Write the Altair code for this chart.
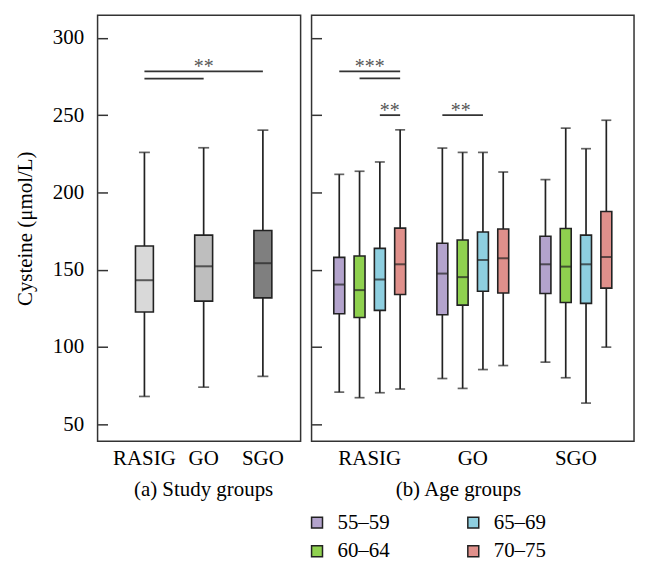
import altair as alt
import pandas as pd

FONT = "Liberation Serif"

groups = ["RASIG", "GO", "SGO"]
ages = ["55–59", "60–64", "65–69", "70–75"]

# (a) Study groups: box statistics
study_lower = [68.0, 74.0, 81.0]
study_q1 = [122.6, 129.7, 131.8]
study_median = [143.2, 152.2, 154.2]
study_q3 = [165.3, 172.4, 175.4]
study_upper = [225.9, 228.9, 240.3]
study_colors = ["#d9d9d9", "#bebebe", "#7f7f7f"]

# (b) Age groups: group-major order (RASIG x4 ages, GO x4, SGO x4)
age_group = [g for g in groups for _ in ages]
age_age = [a for _ in groups for a in ages]
age_lower = [70.8, 67.2, 70.4, 72.8, 79.6, 73.2, 85.4, 88.0, 90.2, 80.1, 63.7, 99.9]
age_q1 = [121.5, 119.1, 123.7, 134.0, 120.9, 127.1, 136.1, 134.9, 134.6, 128.8, 128.2, 138.1]
age_median = [140.4, 136.8, 143.6, 153.5, 147.5, 145.2, 156.3, 157.4, 153.5, 152.0, 153.5, 158.2]
age_q3 = [158.0, 158.9, 163.8, 176.9, 167.1, 169.2, 174.4, 176.3, 171.6, 176.7, 172.4, 187.7]
age_upper = [211.7, 213.7, 219.7, 240.5, 228.7, 225.9, 225.9, 213.2, 208.3, 241.6, 228.3, 246.7]
age_colors = ["#b3a3cc", "#8fd14f", "#8ecfe0", "#e0908b"]

# significance bars (a)
sigA_id = [1, 1, 2, 2]
sigA_group = ["RASIG", "SGO", "RASIG", "GO"]
sigA_y = [278.3, 278.3, 273.6, 273.6]
sigA_text_group = ["GO"]
sigA_text_y = [278.3]
sigA_text = ["**"]

# significance bars (b)
sigB_id = [1, 1, 2, 2, 3, 3, 4, 4]
sigB_group = ["RASIG", "RASIG", "RASIG", "RASIG", "RASIG", "RASIG", "GO", "GO"]
sigB_age = ["55–59", "70–75", "60–64", "70–75", "65–69", "70–75", "55–59", "65–69"]
sigB_y = [278.3, 278.3, 273.8, 273.8, 250.0, 250.0, 250.0, 250.0]

y_ticks = [50, 100, 150, 200, 250, 300]

dfA = pd.DataFrame({"group": groups, "lower": study_lower, "q1": study_q1,
                    "median": study_median, "q3": study_q3, "upper": study_upper})
dfB = pd.DataFrame({"group": age_group, "age": age_age, "lower": age_lower, "q1": age_q1,
                    "median": age_median, "q3": age_q3, "upper": age_upper})
sigA = pd.DataFrame({"id": sigA_id, "group": sigA_group, "y": sigA_y})
sigA_t = pd.DataFrame({"group": sigA_text_group, "y": sigA_text_y, "label": sigA_text})
sigB = pd.DataFrame({"id": sigB_id, "group": sigB_group, "age": sigB_age, "y": sigB_y})
sigB_t1 = pd.DataFrame({"group": ["RASIG"], "y": [278.3], "label": ["***"]})
sigB_t2 = pd.DataFrame({"group": ["RASIG"], "age": ["65–69"], "y": [250.0], "label": ["**"]})
sigB_t3 = pd.DataFrame({"group": ["GO"], "age": ["60–64"], "y": [250.0], "label": ["**"]})

LINE = "#222222"
y_scale = alt.Scale(domain=[39, 314.6], nice=False, zero=False)

axisY_left = alt.Axis(values=y_ticks, tickSize=10, offset=-10, domain=False, grid=False,
                      labelFontSize=21, labelFont=FONT, labelColor="black", labelPadding=14,
                      tickColor="#333333", tickWidth=1.5,
                      title="Cysteine (μmol/L)", titleFont=FONT, titleFontSize=21,
                      titleFontWeight="normal", titleColor="black", titlePadding=17)
axisY_right = alt.Axis(values=y_ticks, tickSize=10, offset=-10, domain=False, grid=False,
                       labels=False, title=None, tickColor="#333333", tickWidth=1.5)


def x_axis(title, tx):
    return alt.Axis(title=title, labelAngle=0, ticks=False, tickSize=0, domain=False,
                    labelFont=FONT, labelFontSize=21, labelColor="black", labelPadding=6,
                    titleFont=FONT, titleFontSize=21, titleFontWeight="normal",
                    titleColor="black", titlePadding=10, titleX=tx)


# ---------- panel (a)
xA = alt.X("group:N", sort=groups,
           scale=alt.Scale(type="band", paddingInner=0, paddingOuter=0.214, align=0.68),
           axis=x_axis("(a) Study groups", 106))

baseA = alt.Chart(dfA)
whiskA = baseA.mark_rule(color=LINE, strokeWidth=1.7).encode(
    x=xA, y=alt.Y("lower:Q", scale=y_scale, axis=axisY_left), y2="upper:Q")
capLoA = baseA.mark_tick(color=LINE, size=11, thickness=1.7).encode(
    x=xA, y=alt.Y("lower:Q", scale=y_scale, axis=axisY_left))
capHiA = baseA.mark_tick(color=LINE, size=11, thickness=1.7).encode(
    x=xA, y=alt.Y("upper:Q", scale=y_scale, axis=axisY_left))
boxA = baseA.mark_bar(size=18, stroke=LINE, strokeWidth=1.6).encode(
    x=xA, y=alt.Y("q1:Q", scale=y_scale, axis=axisY_left), y2="q3:Q",
    color=alt.Color("group:N", scale=alt.Scale(domain=groups, range=study_colors), legend=None))
medA = baseA.mark_tick(color=LINE, size=18, thickness=2).encode(
    x=xA, y=alt.Y("median:Q", scale=y_scale, axis=axisY_left))
lineA = alt.Chart(sigA).mark_line(color="#333333", strokeWidth=1.8).encode(
    x=xA, y=alt.Y("y:Q", scale=y_scale, axis=axisY_left), detail="id:N")
textA = alt.Chart(sigA_t).mark_text(font=FONT, fontSize=20, color="#555555",
                                    baseline="alphabetic", dy=2).encode(
    x=xA, y=alt.Y("y:Q", scale=y_scale, axis=axisY_left), text="label:N")

panelA = alt.layer(whiskA, capLoA, capHiA, boxA, medA, lineA, textA).properties(width=204, height=428)

# ---------- panel (b)
xB = alt.X("group:N", sort=groups,
           scale=alt.Scale(type="band", paddingInner=0, paddingOuter=0.064),
           axis=x_axis("(b) Age groups", 147))
offB = alt.XOffset("age:N", sort=ages,
                   scale=alt.Scale(type="band", paddingInner=0, paddingOuter=0.54))

baseB = alt.Chart(dfB)
whiskB = baseB.mark_rule(color=LINE, strokeWidth=1.7).encode(
    x=xB, xOffset=offB, y=alt.Y("lower:Q", scale=y_scale, axis=axisY_right), y2="upper:Q")
capLoB = baseB.mark_tick(color=LINE, size=10, thickness=1.7).encode(
    x=xB, xOffset=offB, y=alt.Y("lower:Q", scale=y_scale, axis=axisY_right))
capHiB = baseB.mark_tick(color=LINE, size=10, thickness=1.7).encode(
    x=xB, xOffset=offB, y=alt.Y("upper:Q", scale=y_scale, axis=axisY_right))
boxB = baseB.mark_bar(size=11, stroke=LINE, strokeWidth=1.6).encode(
    x=xB, xOffset=offB, y=alt.Y("q1:Q", scale=y_scale, axis=axisY_right), y2="q3:Q",
    color=alt.Color("age:N", sort=ages,
                    scale=alt.Scale(domain=ages, range=age_colors),
                    legend=alt.Legend(orient="none", legendX=-5, legendY=499, columns=2,
                                      direction="vertical",
                                      title=None, symbolType="square", symbolSize=121,
                                      symbolStrokeColor=LINE, symbolStrokeWidth=1.5,
                                      symbolOpacity=1, labelFont=FONT, labelFontSize=21,
                                      labelColor="black", labelOffset=10,
                                      columnPadding=73, rowPadding=7, padding=0)))
medB = baseB.mark_tick(color=LINE, size=11, thickness=2).encode(
    x=xB, xOffset=offB, y=alt.Y("median:Q", scale=y_scale, axis=axisY_right))
lineB = alt.Chart(sigB).mark_line(color="#333333", strokeWidth=1.8).encode(
    x=xB, xOffset=offB, y=alt.Y("y:Q", scale=y_scale, axis=axisY_right), detail="id:N")
textB1 = alt.Chart(sigB_t1).mark_text(font=FONT, fontSize=20, color="#555555",
                                      baseline="alphabetic", dy=2).encode(
    x=xB, y=alt.Y("y:Q", scale=y_scale, axis=axisY_right), text="label:N")
textB2 = alt.Chart(sigB_t2).mark_text(font=FONT, fontSize=20, color="#555555",
                                      baseline="alphabetic", dy=2, dx=10).encode(
    x=xB, xOffset=offB, y=alt.Y("y:Q", scale=y_scale, axis=axisY_right), text="label:N")
textB3 = alt.Chart(sigB_t3).mark_text(font=FONT, fontSize=20, color="#555555",
                                      baseline="alphabetic", dy=2, dx=-2).encode(
    x=xB, xOffset=offB, y=alt.Y("y:Q", scale=y_scale, axis=axisY_right), text="label:N")

panelB = alt.layer(whiskB, capLoB, capHiB, boxB, medB, lineB, textB1, textB2, textB3).properties(
    width=324, height=428)

chart = alt.hconcat(panelA, panelB, spacing=4).resolve_scale(
    x="independent", y="independent", color="independent", xOffset="independent"
).resolve_axis(x="independent", y="independent").resolve_legend(color="independent").configure_view(
    stroke="#333333", strokeWidth=1.5
)

chart.save("out.html", embed_options={"renderer": "svg", "actions": False})
